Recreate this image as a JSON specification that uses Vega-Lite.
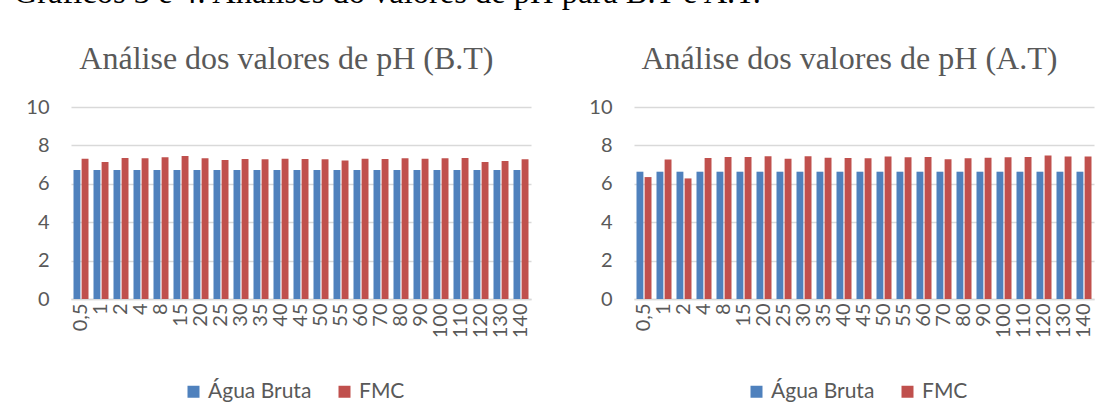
{
  "$schema": "https://vega.github.io/schema/vega-lite/v6.json",
  "background": "white",
  "padding": {"top": -24, "left": 13, "right": 5, "bottom": 5},
  "title": {"text": "Gráficos 3 e 4: Análises do valores de pH para B.T e A.T.", "font": "Liberation Serif", "fontSize": 32.5, "fontWeight": "normal", "color": "black", "anchor": "start", "dx": -12, "offset": 34},
  "datasets": {
    "bt": [
      {"tempo": "0,5", "serie": "Água Bruta", "pH": 6.72}, {"tempo": "0,5", "serie": "FMC", "pH": 7.31},
      {"tempo": "1", "serie": "Água Bruta", "pH": 6.72}, {"tempo": "1", "serie": "FMC", "pH": 7.14},
      {"tempo": "2", "serie": "Água Bruta", "pH": 6.72}, {"tempo": "2", "serie": "FMC", "pH": 7.34},
      {"tempo": "4", "serie": "Água Bruta", "pH": 6.72}, {"tempo": "4", "serie": "FMC", "pH": 7.33},
      {"tempo": "8", "serie": "Água Bruta", "pH": 6.72}, {"tempo": "8", "serie": "FMC", "pH": 7.38},
      {"tempo": "15", "serie": "Água Bruta", "pH": 6.72}, {"tempo": "15", "serie": "FMC", "pH": 7.45},
      {"tempo": "20", "serie": "Água Bruta", "pH": 6.72}, {"tempo": "20", "serie": "FMC", "pH": 7.33},
      {"tempo": "25", "serie": "Água Bruta", "pH": 6.72}, {"tempo": "25", "serie": "FMC", "pH": 7.24},
      {"tempo": "30", "serie": "Água Bruta", "pH": 6.72}, {"tempo": "30", "serie": "FMC", "pH": 7.29},
      {"tempo": "35", "serie": "Água Bruta", "pH": 6.72}, {"tempo": "35", "serie": "FMC", "pH": 7.28},
      {"tempo": "40", "serie": "Água Bruta", "pH": 6.72}, {"tempo": "40", "serie": "FMC", "pH": 7.31},
      {"tempo": "45", "serie": "Água Bruta", "pH": 6.72}, {"tempo": "45", "serie": "FMC", "pH": 7.29},
      {"tempo": "50", "serie": "Água Bruta", "pH": 6.72}, {"tempo": "50", "serie": "FMC", "pH": 7.28},
      {"tempo": "55", "serie": "Água Bruta", "pH": 6.72}, {"tempo": "55", "serie": "FMC", "pH": 7.22},
      {"tempo": "60", "serie": "Água Bruta", "pH": 6.72}, {"tempo": "60", "serie": "FMC", "pH": 7.31},
      {"tempo": "70", "serie": "Água Bruta", "pH": 6.72}, {"tempo": "70", "serie": "FMC", "pH": 7.29},
      {"tempo": "80", "serie": "Água Bruta", "pH": 6.72}, {"tempo": "80", "serie": "FMC", "pH": 7.33},
      {"tempo": "90", "serie": "Água Bruta", "pH": 6.72}, {"tempo": "90", "serie": "FMC", "pH": 7.31},
      {"tempo": "100", "serie": "Água Bruta", "pH": 6.72}, {"tempo": "100", "serie": "FMC", "pH": 7.33},
      {"tempo": "110", "serie": "Água Bruta", "pH": 6.72}, {"tempo": "110", "serie": "FMC", "pH": 7.34},
      {"tempo": "120", "serie": "Água Bruta", "pH": 6.72}, {"tempo": "120", "serie": "FMC", "pH": 7.14},
      {"tempo": "130", "serie": "Água Bruta", "pH": 6.72}, {"tempo": "130", "serie": "FMC", "pH": 7.19},
      {"tempo": "140", "serie": "Água Bruta", "pH": 6.72}, {"tempo": "140", "serie": "FMC", "pH": 7.28}
    ],
    "at": [
      {"tempo": "0,5", "serie": "Água Bruta", "pH": 6.63}, {"tempo": "0,5", "serie": "FMC", "pH": 6.35},
      {"tempo": "1", "serie": "Água Bruta", "pH": 6.63}, {"tempo": "1", "serie": "FMC", "pH": 7.26},
      {"tempo": "2", "serie": "Água Bruta", "pH": 6.63}, {"tempo": "2", "serie": "FMC", "pH": 6.28},
      {"tempo": "4", "serie": "Água Bruta", "pH": 6.63}, {"tempo": "4", "serie": "FMC", "pH": 7.35},
      {"tempo": "8", "serie": "Água Bruta", "pH": 6.63}, {"tempo": "8", "serie": "FMC", "pH": 7.40},
      {"tempo": "15", "serie": "Água Bruta", "pH": 6.63}, {"tempo": "15", "serie": "FMC", "pH": 7.40},
      {"tempo": "20", "serie": "Água Bruta", "pH": 6.63}, {"tempo": "20", "serie": "FMC", "pH": 7.43},
      {"tempo": "25", "serie": "Água Bruta", "pH": 6.63}, {"tempo": "25", "serie": "FMC", "pH": 7.31},
      {"tempo": "30", "serie": "Água Bruta", "pH": 6.63}, {"tempo": "30", "serie": "FMC", "pH": 7.43},
      {"tempo": "35", "serie": "Água Bruta", "pH": 6.63}, {"tempo": "35", "serie": "FMC", "pH": 7.36},
      {"tempo": "40", "serie": "Água Bruta", "pH": 6.63}, {"tempo": "40", "serie": "FMC", "pH": 7.35},
      {"tempo": "45", "serie": "Água Bruta", "pH": 6.63}, {"tempo": "45", "serie": "FMC", "pH": 7.33},
      {"tempo": "50", "serie": "Água Bruta", "pH": 6.63}, {"tempo": "50", "serie": "FMC", "pH": 7.42},
      {"tempo": "55", "serie": "Água Bruta", "pH": 6.63}, {"tempo": "55", "serie": "FMC", "pH": 7.38},
      {"tempo": "60", "serie": "Água Bruta", "pH": 6.63}, {"tempo": "60", "serie": "FMC", "pH": 7.40},
      {"tempo": "70", "serie": "Água Bruta", "pH": 6.63}, {"tempo": "70", "serie": "FMC", "pH": 7.28},
      {"tempo": "80", "serie": "Água Bruta", "pH": 6.63}, {"tempo": "80", "serie": "FMC", "pH": 7.33},
      {"tempo": "90", "serie": "Água Bruta", "pH": 6.63}, {"tempo": "90", "serie": "FMC", "pH": 7.36},
      {"tempo": "100", "serie": "Água Bruta", "pH": 6.63}, {"tempo": "100", "serie": "FMC", "pH": 7.38},
      {"tempo": "110", "serie": "Água Bruta", "pH": 6.63}, {"tempo": "110", "serie": "FMC", "pH": 7.40},
      {"tempo": "120", "serie": "Água Bruta", "pH": 6.63}, {"tempo": "120", "serie": "FMC", "pH": 7.47},
      {"tempo": "130", "serie": "Água Bruta", "pH": 6.63}, {"tempo": "130", "serie": "FMC", "pH": 7.42},
      {"tempo": "140", "serie": "Água Bruta", "pH": 6.63}, {"tempo": "140", "serie": "FMC", "pH": 7.42}
    ]
  },
  "spacing": 57,
  "hconcat": [
    {
      "data": {"name": "bt"},
      "title": {"text": "Análise dos valores de pH (B.T)"},
      "width": 460,
      "height": 192,
      "mark": {"type": "bar"},
      "encoding": {
        "x": {"field": "tempo", "type": "nominal", "sort": null, "scale": {"paddingInner": 0.25, "paddingOuter": 0.125}, "axis": {"title": null, "labelAngle": -90}},
        "xOffset": {"field": "serie", "type": "nominal", "sort": ["Água Bruta", "FMC"], "scale": {"paddingInner": 0.15, "paddingOuter": 0}},
        "y": {"field": "pH", "type": "quantitative", "scale": {"domain": [0, 10]}, "axis": {"title": null, "values": [0, 2, 4, 6, 8, 10]}},
        "color": {"field": "serie", "type": "nominal", "scale": {"domain": ["Água Bruta", "FMC"], "range": ["#4F81BD", "#C0504D"]}, "legend": {"title": null, "orient": "none", "legendX": 112, "legendY": 274, "direction": "horizontal"}}
      }
    },
    {
      "data": {"name": "at"},
      "title": {"text": "Análise dos valores de pH (A.T)"},
      "width": 460,
      "height": 192,
      "mark": {"type": "bar"},
      "encoding": {
        "x": {"field": "tempo", "type": "nominal", "sort": null, "scale": {"paddingInner": 0.25, "paddingOuter": 0.125}, "axis": {"title": null, "labelAngle": -90}},
        "xOffset": {"field": "serie", "type": "nominal", "sort": ["Água Bruta", "FMC"], "scale": {"paddingInner": 0.15, "paddingOuter": 0}},
        "y": {"field": "pH", "type": "quantitative", "scale": {"domain": [0, 10]}, "axis": {"title": null, "values": [0, 2, 4, 6, 8, 10]}},
        "color": {"field": "serie", "type": "nominal", "scale": {"domain": ["Água Bruta", "FMC"], "range": ["#4F81BD", "#C0504D"]}, "legend": {"title": null, "orient": "none", "legendX": 112, "legendY": 274, "direction": "horizontal"}}
      }
    }
  ],
  "resolve": {"scale": {"color": "independent", "x": "independent", "y": "independent"}, "legend": {"color": "independent"}},
  "config": {
    "view": {"stroke": null},
    "axis": {"labelFont": "Lato", "labelFontSize": 20, "labelColor": "#595959", "ticks": false, "gridColor": "#D9D9D9", "gridWidth": 1.3, "domainColor": "#D9D9D9", "domainWidth": 1.3},
    "axisY": {"domain": false, "labelPadding": 22},
    "axisX": {"grid": false, "labelPadding": 4, "labelOverlap": false, "labelBound": false},
    "title": {"font": "Liberation Serif", "fontSize": 32, "fontWeight": "normal", "color": "#595959", "anchor": "middle", "frame": "bounds", "offset": 21, "dx": 8},
    "legend": {"labelFont": "Lato", "labelFontSize": 21, "labelColor": "#595959", "symbolType": "square", "symbolSize": 144, "symbolStrokeWidth": 0, "labelOffset": 4, "columnPadding": 22}
  }
}
